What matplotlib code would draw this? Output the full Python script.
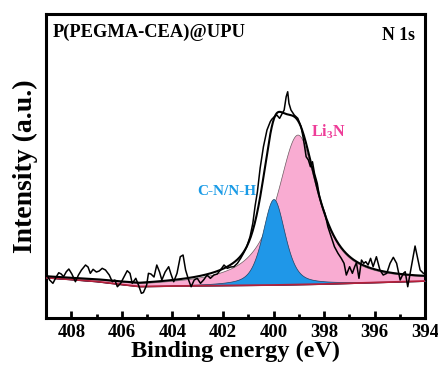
import numpy as np
from matplotlib import pyplot as plt
from matplotlib.ticker import MultipleLocator

# raw N 1s spectrum (binding energy eV, intensity a.u.)
raw_be = [409.00, 408.86, 408.73, 408.60, 408.50, 408.40, 408.31, 408.20, 408.10, 407.98,
          407.84, 407.72, 407.60, 407.44, 407.34, 407.25, 407.14, 407.01, 406.90, 406.78,
          406.65, 406.50, 406.38, 406.28, 406.18, 406.05, 405.92, 405.79, 405.68, 405.59,
          405.45, 405.32, 405.23, 405.15, 405.02, 404.95, 404.85, 404.73, 404.62, 404.51,
          404.42, 404.29, 404.15, 404.06, 403.95, 403.82, 403.69, 403.58, 403.48, 403.36,
          403.26, 403.14, 403.02, 402.89, 402.76, 402.63, 402.50, 402.36, 402.23, 402.10,
          401.96, 401.83, 401.70, 401.57, 401.43, 401.30, 401.19, 401.06, 400.93, 400.82,
          400.73, 400.64, 400.53, 400.40, 400.26, 400.13, 400.07, 399.97, 399.87, 399.76,
          399.67, 399.58, 399.50, 399.44, 399.39, 399.31, 399.18, 399.04, 398.91, 398.81,
          398.71, 398.62, 398.54, 398.46, 398.38, 398.27, 398.18, 398.09, 398.02, 397.96,
          397.85, 397.72, 397.59, 397.45, 397.32, 397.21, 397.12, 396.99, 396.88, 396.79,
          396.72, 396.62, 396.52, 396.43, 396.35, 396.26, 396.16, 396.06, 395.93, 395.79,
          395.66, 395.52, 395.39, 395.26, 395.13, 394.99, 394.86, 394.79, 394.69, 394.57,
          394.40, 394.31, 394.20, 394.07, 394.00]
raw_int = [44.7, 38.0, 34.7, 41.0, 45.3, 44.0, 41.3, 46.3, 49.0, 44.0,
           36.3, 43.0, 48.0, 53.0, 51.0, 44.7, 48.7, 46.0, 47.0, 49.7,
           48.0, 43.0, 36.3, 38.0, 31.3, 34.7, 41.0, 47.3, 44.7, 34.7,
           39.7, 31.3, 24.7, 25.5, 33.0, 44.7, 44.0, 41.0, 53.0, 46.0,
           38.0, 46.0, 51.3, 44.0, 36.3, 44.7, 61.3, 63.0, 48.0, 38.0,
           31.3, 38.0, 39.7, 34.7, 38.3, 43.0, 39.7, 43.0, 44.0, 48.0,
           53.0, 49.7, 51.0, 51.3, 54.7, 59.7, 64.7, 71.3, 81.3, 94.7,
           112.0, 126.0, 150.0, 171.3, 188.0, 196.3, 198.7, 201.3, 203.0, 199.7,
           204.0, 208.0, 221.3, 226.3, 214.7, 208.0, 203.0, 199.7, 191.3, 178.0,
           161.3, 158.0, 151.3, 156.3, 144.7, 134.7, 121.3, 113.0, 108.0, 104.0,
           91.3, 81.3, 71.3, 64.7, 59.7, 54.7, 43.0, 51.3, 44.7, 51.3,
           55.3, 39.7, 58.0, 54.7, 56.3, 53.0, 59.7, 51.3, 61.3, 48.0,
           43.0, 44.7, 54.7, 60.7, 54.7, 38.0, 44.7, 46.3, 31.3, 48.0,
           72.0, 61.3, 48.0, 44.7, 44.0]

# background (red line)
bg_be = [409.0, 408.0, 407.0, 406.0, 405.3, 404.0, 402.0, 400.0, 398.0, 396.0, 394.0]
bg_int = [40.3, 38.5, 36.5, 33.5, 31.5, 32.0, 32.5, 33.0, 34.0, 35.5, 37.0]

# fitted components: centre (eV), height, fwhm left, fwhm right, lorentz fraction
li3n_peak = [399.05, 150.0, 2.0, 1.95, 0.9]
cn_peak = [400.0, 86.0, 1.05, 1.05, 0.5]


def pseudo_voigt(x, p):
    c, h, wl, wr, eta = p
    w = np.where(x > c, wl, wr) / 2.0
    g = np.exp(-np.log(2) * ((x - c) / w) ** 2)
    l = 1.0 / (1.0 + ((x - c) / w) ** 2)
    return h * (eta * l + (1 - eta) * g)


plt.rcParams['font.family'] = ['Liberation Serif', 'DejaVu Serif']
plt.rcParams['font.weight'] = 'bold'
plt.rcParams['mathtext.fontset'] = 'custom'
plt.rcParams['mathtext.rm'] = 'Liberation Serif:bold'
plt.rcParams['mathtext.bf'] = 'Liberation Serif:bold'

fig = plt.figure(figsize=(4.39, 3.70), dpi=100)
ax = fig.add_axes([0.105, 0.1405, 0.8635, 0.8215])

e = np.linspace(409.0, 394.0, 601)
bg = np.interp(e, bg_be[::-1], bg_int[::-1])
li3n = pseudo_voigt(e, li3n_peak)
cn = pseudo_voigt(e, cn_peak)

ax.fill_between(e, bg, bg + li3n, facecolor='#f9acd2', edgecolor='#6a5a60', linewidth=0.5, zorder=2)
ax.fill_between(e, bg, bg + cn, facecolor='#1f97e8', edgecolor='#204060', linewidth=0.5, zorder=3)
ax.plot(bg_be, bg_int, color='#b3203a', lw=1.3, zorder=4)
ax.plot(e, bg + li3n + cn, color='black', lw=1.5, zorder=5)
ax.plot(raw_be, raw_int, color='black', lw=1.1, zorder=6)

ax.set_xlim(409.0, 394.0)
ax.set_ylim(0, 304)
ax.xaxis.set_major_locator(MultipleLocator(2))
ax.xaxis.set_minor_locator(MultipleLocator(1))
ax.set_yticks([])
ax.tick_params(axis='x', which='major', direction='in', length=5, width=2, labelsize=13.5, pad=4)
ax.tick_params(axis='x', which='minor', direction='in', length=3, width=2)
for s in ax.spines.values():
    s.set_linewidth(2.2)

ax.set_xlabel('Binding energy (eV)', fontsize=17.5, fontweight='bold', labelpad=0)
ax.set_ylabel('Intensity (a.u.)', fontsize=20, fontweight='bold', labelpad=6)

ax.text(0.018, 0.94, 'P(PEGMA-CEA)@UPU', transform=ax.transAxes, fontsize=13.3,
        fontweight='bold', ha='left', va='center')
ax.text(0.974, 0.93, 'N 1s', transform=ax.transAxes, fontsize=12.7,
        fontweight='bold', ha='right', va='center')
ax.text(397.85, 186, r'Li$_3$N', color='#ee3c98', fontsize=11.5, fontweight='bold',
        ha='center', va='center')
ax.text(401.86, 127, 'C-N/N-H', color='#1a9be6', fontsize=11, fontweight='bold',
        ha='center', va='center')

fig.savefig('out.png', dpi=100)
